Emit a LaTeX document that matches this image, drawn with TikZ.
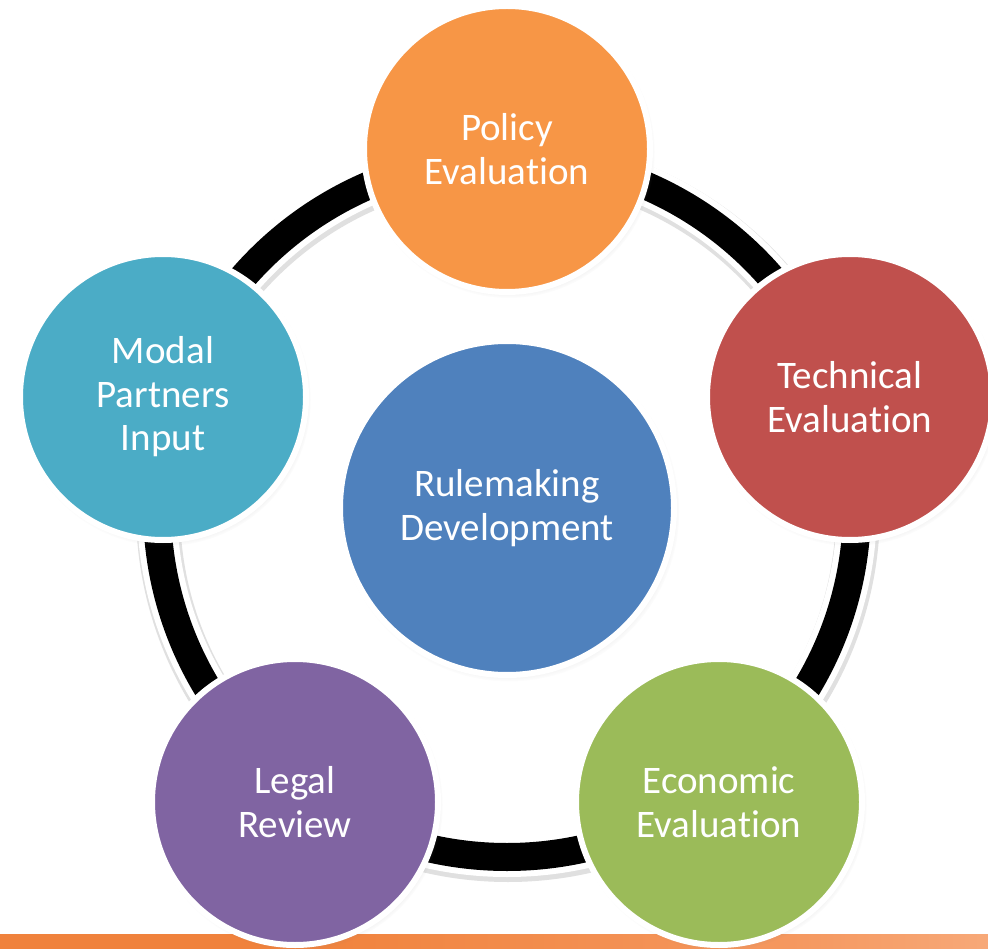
\documentclass[tikz,border=0pt]{standalone}
\usepackage{fontspec}
\setmainfont[Ligatures=NoCommon]{Carlito}
\usetikzlibrary{shadows}
\definecolor{cpol}{HTML}{F79646}
\definecolor{ctec}{HTML}{C0504D}
\definecolor{ceco}{HTML}{9BBB59}
\definecolor{cleg}{HTML}{8064A2}
\definecolor{cmod}{HTML}{4BACC6}
\definecolor{crul}{HTML}{4F81BD}
\definecolor{barA}{RGB}{240,130,60}
\definecolor{barB}{RGB}{245,152,95}
\definecolor{barC}{RGB}{249,185,145}
\definecolor{barD}{RGB}{252,230,215}
\pgfdeclarehorizontalshading{barshade}{100bp}{color(0bp)=(barA); color(40bp)=(barA); color(65bp)=(barB); color(85bp)=(barC); color(100bp)=(barD)}
\begin{document}
\begin{tikzpicture}[x=1pt,y=-1pt,
  bub/.style={circle, fill=#1, draw=white, line width=6pt, minimum size=286pt,
    inner sep=0pt, text=white, align=center, font=\fontsize{39}{43.5}\selectfont,
    circular drop shadow={shadow xshift=2pt, shadow yshift=-3pt, opacity=0.35, shadow scale=1.02}},
  ringshadow/.style={black!12, line width=44pt},
  ringwhite/.style={white, line width=40pt},
  ringblack/.style={black, line width=28pt}
]
\useasboundingbox (0,0) rectangle (988,949);
\fill[white] (0,0) rectangle (988,949);
\shade[shading=barshade] (0,934) rectangle (988,949);
\coordinate (ringc) at (507,507);
\draw[ringshadow] ([shift={(1,3)}]ringc) circle[radius=350];
\draw[ringwhite] (ringc) circle[radius=350];
\draw[ringblack] (ringc) circle[radius=350];
\node[bub=crul, minimum size=334pt] (rul) at (507,508) {Rulemaking\\Development};
\node[bub=cpol] (pol) at (507,149) {Policy\\Evaluation};
\node[bub=ctec] (tec) at (850,397) {Technical\\Evaluation};
\node[bub=ceco] (eco) at (719,802) {Economic\\Evaluation};
\node[bub=cleg] (leg) at (295,802) {Legal\\Review};
\node[bub=cmod] (mod) at (163,397) {Modal\\Partners\\Input};
\end{tikzpicture}
\end{document}
